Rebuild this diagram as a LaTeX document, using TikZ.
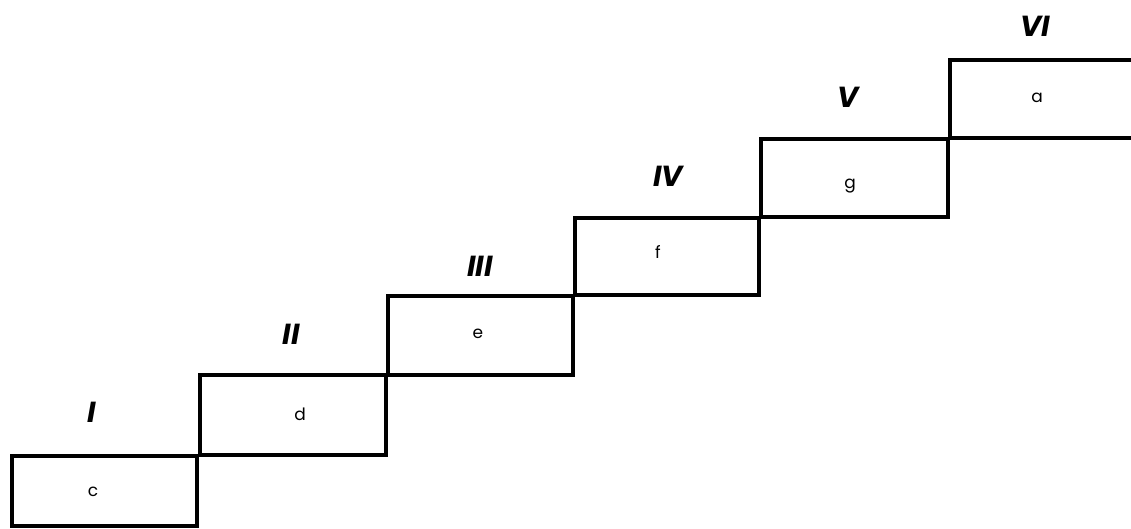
\documentclass[tikz,border=0pt]{standalone}
\usepackage{fontspec}
\setmainfont{Poppins}
\begin{document}
\begin{tikzpicture}[x=1pt,y=-1pt,
  stepline/.style={line width=4.8pt, line join=miter},
  numlabel/.style={font=\fontsize{29}{30}\selectfont\bfseries\itshape, inner sep=0pt},
  letlabel/.style={font=\fontsize{17}{18}\selectfont, inner sep=0pt}]
\useasboundingbox (0,0) rectangle (1131,529);
\clip (0,0) rectangle (1131,529);
% boxes
\draw[stepline] (12,456) rectangle (197,526);
\draw[stepline] (200,375) rectangle (386,455);
\draw[stepline] (388,296) rectangle (573,375);
\draw[stepline] (575,218) rectangle (759,295);
\draw[stepline] (761,139) rectangle (948,217);
\draw[stepline] (1140,60) -- (950,60) -- (950,138) -- (1140,138);
% letters
\node[letlabel] (lc) at (93,492) {c};
\node[letlabel] (ld) at (300,414) {d};
\node[letlabel] (le) at (478,334) {e};
\node[letlabel] (lf) at (658,252) {f};
\node[letlabel] (lg) at (850,186) {g};
\node[letlabel] (la) at (1037,98) {a};
% numerals
\node[numlabel] (nI) at (92,412) {I};
\node[numlabel] (nII) at (291,334) {II};
\node[numlabel] (nIII) at (480,266) {III};
\node[numlabel] (nIV) at (668,176) {IV};
\node[numlabel] (nV) at (848,97) {V};
\node[numlabel] (nVI) at (1035,26) {VI};
\end{tikzpicture}
\end{document}
